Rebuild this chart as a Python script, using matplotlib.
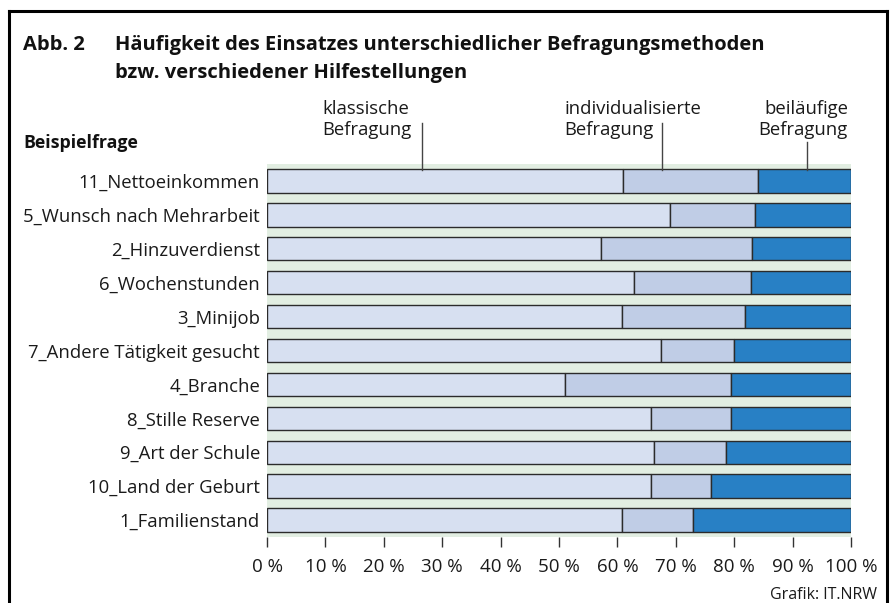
import matplotlib
matplotlib.use("Agg")
import matplotlib.pyplot as plt
from matplotlib.lines import Line2D

plt.rcParams['font.family'] = ['Open Sans', 'DejaVu Sans']

categories = ["11_Nettoeinkommen", "5_Wunsch nach Mehrarbeit", "2_Hinzuverdienst",
              "6_Wochenstunden", "3_Minijob", "7_Andere Tätigkeit gesucht", "4_Branche",
              "8_Stille Reserve", "9_Art der Schule", "10_Land der Geburt", "1_Familienstand"]
klassisch = [60.9, 69.0, 57.2, 62.8, 60.8, 67.4, 51.1, 65.8, 66.3, 65.8, 60.8]
individuell = [23.1, 14.5, 25.8, 20.0, 21.1, 12.5, 28.3, 13.6, 12.3, 10.3, 12.2]
beilaeufig = [16.0, 16.5, 17.0, 17.2, 18.1, 20.1, 20.6, 20.6, 21.4, 23.9, 27.0]
series_names = ["klassische\nBefragung", "individualisierte\nBefragung", "beiläufige\nBefragung"]
xticks = [0, 10, 20, 30, 40, 50, 60, 70, 80, 90, 100]
xticklabels = [f"{v} %" for v in xticks]

colors = ["#d7e0f1", "#c0cde6", "#2880c5"]
green = "#e2eee2"

W, H = 893, 603
fig = plt.figure(figsize=(W / 100, H / 100), dpi=100)
ax = fig.add_axes([267 / W, 1 - 537 / H, (851 - 267) / W, (537 - 164) / H])
ax.set_facecolor(green)

n = len(categories)
ypos = list(range(n))[::-1]
left = [0] * n
for vals, c in zip([klassisch, individuell, beilaeufig], colors):
    ax.barh(ypos, vals, left=left, height=0.69, color=c, edgecolor="#2b2b2b", linewidth=1.0, zorder=2)
    left = [l + v for l, v in zip(left, vals)]

ax.set_xlim(0, 100)
ax.set_ylim(-0.5, n - 0.5)
for s in ax.spines.values():
    s.set_visible(False)
ax.set_yticks(ypos)
ax.set_yticklabels(categories, fontsize=13.3, color="#1a1a1a")
ax.tick_params(axis="y", length=0, pad=5)
ax.set_xticks(xticks)
ax.set_xticklabels(xticklabels, fontsize=13.5, color="#1a1a1a")
ax.tick_params(axis="x", length=7, width=1, color="#333333", pad=8)

# series annotations with leader lines
ann_x = [26.5, 67.6, 92.5]
ann_text_x = [322, 564, 848]
ann_ha = ["left", "left", "right"]
line_top = [123, 123, 142]
for name, lx, tx, ha, lt in zip(series_names, ann_x, ann_text_x, ann_ha, line_top):
    l1, l2 = name.split("\n")
    fig.text(tx / W, 1 - 109 / H, l1, ha=ha, va="center", fontsize=13.3, color="#1a1a1a")
    fig.text(tx / W, 1 - 130 / H, l2, ha=ha, va="center", fontsize=13.3, color="#1a1a1a")
    xf = (267 + lx / 100 * (851 - 267)) / W
    fig.add_artist(Line2D([xf, xf], [1 - lt / H, 1 - 170 / H], color="#444444", lw=1.0))

# titles
fig.text(23 / W, 1 - 45 / H, "Abb. 2", fontsize=14.5, fontweight="bold", va="center", color="#111111")
fig.text(115 / W, 1 - 45 / H, "Häufigkeit des Einsatzes unterschiedlicher Befragungsmethoden",
         fontsize=14.5, fontweight="bold", va="center", color="#111111")
fig.text(115 / W, 1 - 73 / H, "bzw. verschiedener Hilfestellungen",
         fontsize=14.5, fontweight="bold", va="center", color="#111111")
fig.text(23 / W, 1 - 143 / H, "Beispielfrage", fontsize=12.8, fontweight="bold", va="center", color="#111111")
fig.text(877 / W, 1 - 595 / H, "Grafik: IT.NRW", fontsize=11.5, ha="right", va="center", color="#1a1a1a")

# frame
fw = 2.2
fig.add_artist(Line2D([9 / W, 9 / W], [0, 1 - 11 / H], color="black", lw=fw))
fig.add_artist(Line2D([887 / W, 887 / W], [0, 1 - 11 / H], color="black", lw=fw))
fig.add_artist(Line2D([9 / W, 887 / W], [1 - 11 / H, 1 - 11 / H], color="black", lw=fw))

fig.savefig("out.png", dpi=100)
